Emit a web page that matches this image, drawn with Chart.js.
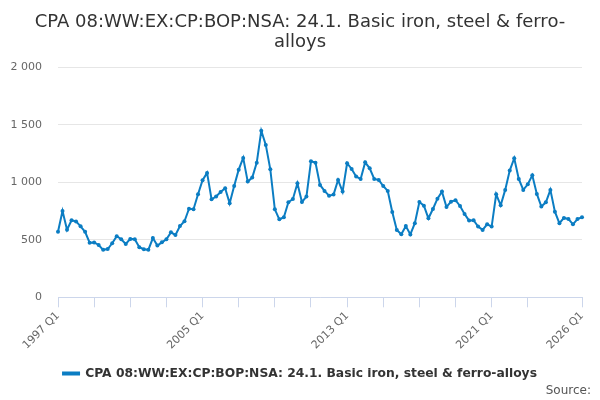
<!DOCTYPE html>
<html>
<head>
<meta charset="utf-8">
<script src="https://cdn.jsdelivr.net/npm/chart.js@4/dist/chart.umd.min.js"></script>
<style>
  html, body { margin: 0; padding: 0; background: #fff; }
  #wrap { width: 600px; height: 400px; }
</style>
</head>
<body>
<div id="wrap"><canvas id="ironChart"></canvas></div>
<script>
const firstYear = 1997;
const quarterCount = 117;
const quarterLabels = [];
for (let i = 0; i < quarterCount; i++) {
    quarterLabels.push((firstYear + Math.floor(i / 4)) + ' Q' + (i % 4 + 1));
}

// values, 1997 Q1 .. 2026 Q1
const exportValues = [
    570, 750, 588, 670, 660, 617, 570, 475, 477, 455,
    413, 420, 470, 532, 505, 464, 508, 505, 435, 418,
    413, 515, 450, 478, 505, 565, 542, 620, 661, 770,
    766, 896, 1018, 1082, 852, 876, 915, 948, 818, 968,
    1110, 1212, 1006, 1041, 1171, 1448, 1325, 1113, 765, 678,
    696, 826, 855, 991, 829, 876, 1183, 1171, 977, 925,
    884, 893, 1020, 919, 1166, 1116, 1050, 1029, 1174, 1122,
    1029, 1020, 968, 925, 742, 586, 548, 620, 547, 644,
    828, 797, 687, 768, 858, 919, 786, 832, 844, 794,
    725, 667, 670, 615, 586, 635, 615, 896, 800, 934,
    1102, 1209, 1029, 934, 983, 1061, 899, 789, 826, 934,
    745, 644, 690, 681, 635, 681, 696
];

const yTicks = [0, 500, 1000, 1500, 2000];
const seriesName = 'CPA 08:WW:EX:CP:BOP:NSA: 24.1. Basic iron, steel & ferro-alloys';
const titleLines = ['CPA 08:WW:EX:CP:BOP:NSA: 24.1. Basic iron, steel & ferro-', 'alloys'];

const lineBlue = '#0b7dc3';
const lastIndex = quarterLabels.length - 1;

const data = {
    labels: quarterLabels,
    datasets: [{
        label: seriesName,
        data: exportValues,
        borderColor: lineBlue,
        backgroundColor: lineBlue,
        borderWidth: 2,
        pointRadius: 2,
        pointHoverRadius: 3,
        pointBorderWidth: 0,
        tension: 0
    }]
};

const config = {
    type: 'line',
    data: data,
    options: {
        responsive: true,
        maintainAspectRatio: false,
        animation: false,
        layout: {
            padding: { left: 9, right: 9, top: 6, bottom: 2 }
        },
        scales: {
            x: {
                type: 'category',
                grid: {
                    display: true,
                    drawOnChartArea: false,
                    drawTicks: true,
                    tickLength: 10,
                    color: '#ccd6eb'
                },
                border: { display: true, color: '#ccd6eb', width: 1 },
                ticks: {
                    autoSkip: false,
                    maxRotation: 45,
                    minRotation: 45,
                    padding: 2,
                    color: '#666666',
                    font: { family: 'DejaVu Sans', size: 11 },
                    callback: function(value, index) {
                        if (index % 32 === 0 || index === lastIndex) {
                            return quarterLabels[index];
                        }
                        if (index % 8 === 0 && index < lastIndex - 8) {
                            return '';
                        }
                        return null;
                    }
                },
                afterFit: function(scale) { scale.height = 68; }
            },
            y: {
                min: 0,
                max: 2000,
                afterBuildTicks: function(scale) {
                    scale.ticks = yTicks.map(v => ({ value: v }));
                },
                grid: {
                    color: '#e6e6e6',
                    drawTicks: false
                },
                border: { display: false },
                ticks: {
                    padding: 16,
                    color: '#666666',
                    font: { family: 'DejaVu Sans', size: 11 },
                    callback: function(value) {
                        return String(value).replace(/\B(?=(\d{3})+(?!\d))/g, ' ');
                    }
                },
                afterFit: function(scale) { scale.width = 49; }
            },
            // empty right-hand box, only to keep the plot's right edge in place
            yRight: {
                position: 'right',
                display: true,
                grid: { display: false },
                border: { display: false },
                ticks: { display: false },
                afterFit: function(scale) { scale.width = 9; }
            }
        },
        plugins: {
            title: {
                display: true,
                text: titleLines,
                color: '#333333',
                font: { family: 'DejaVu Sans', size: 18, weight: 'normal', lineHeight: 1.12 },
                padding: { top: 6, bottom: 15 }
            },
            legend: {
                display: true,
                position: 'bottom',
                labels: {
                    color: '#333333',
                    boxWidth: 16,
                    boxHeight: 2,
                    padding: 2,
                    font: { family: 'DejaVu Sans', size: 12.3, weight: 'bold' }
                }
            },
            subtitle: {
                display: true,
                text: 'Source:',
                position: 'bottom',
                align: 'end',
                color: '#555555',
                font: { family: 'DejaVu Sans', size: 12, weight: 'normal' },
                padding: { top: -6, bottom: 0 }
            },
            tooltip: { enabled: false }
        }
    }
};

const ctx = document.getElementById('ironChart').getContext('2d');
const ironChart = new Chart(ctx, config);
</script>
</body>
</html>
